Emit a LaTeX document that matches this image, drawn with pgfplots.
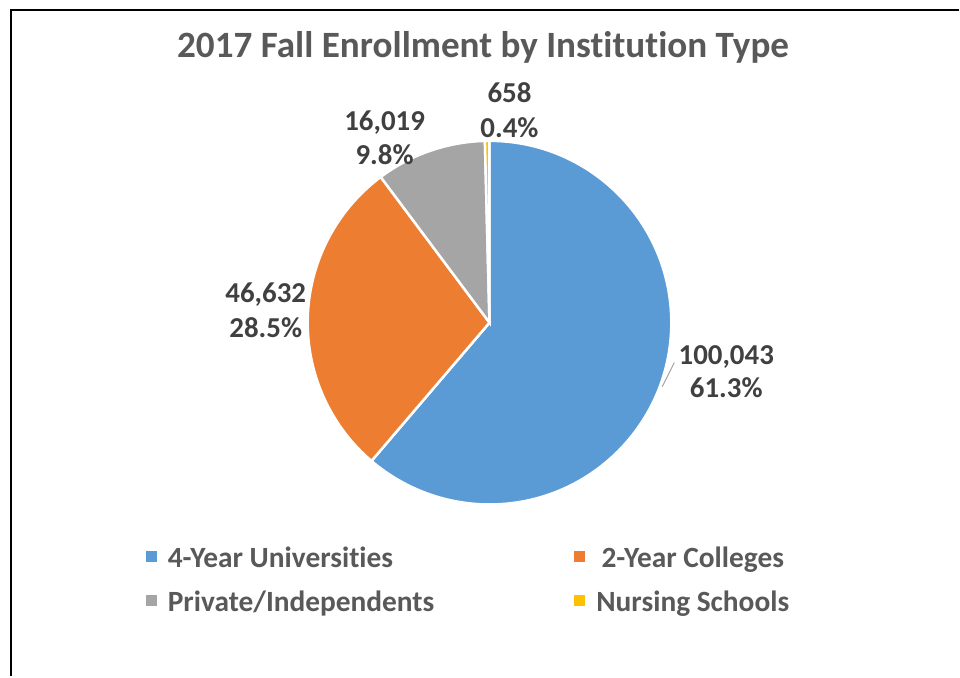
\documentclass[border=0pt]{standalone}
\usepackage{fontspec}
\setmainfont{Carlito}[Ligatures=NoCommon]
\usepackage{pgfplots}
\pgfplotsset{compat=1.18}
\definecolor{cblue}{HTML}{5B9BD5}
\definecolor{corange}{HTML}{ED7D31}
\definecolor{cgray}{HTML}{A5A5A5}
\definecolor{cyellow}{HTML}{FFC000}
\definecolor{ctitle}{HTML}{595959}
\definecolor{clabel}{HTML}{404040}

% enrollment by institution type
\def\vA{100043}% 4-Year Universities
\def\vB{46632}%  2-Year Colleges
\def\vC{16019}%  Private/Independents
\def\vD{658}%    Nursing Schools
\edef\tot{\fpeval{\vA+\vB+\vC+\vD}}
\edef\sA{\fpeval{\vA/\tot}}
\edef\sB{\fpeval{(\vA+\vB)/\tot}}
\edef\sC{\fpeval{(\vA+\vB+\vC)/\tot}}

% slice: colour, start fraction, end fraction (clockwise from 12 o'clock)
\newcommand\slice[3]{%
  \filldraw[fill=#1, draw=white, line width=2.5bp]
    (axis cs:490,354) -- ++({\fpeval{90-360*(#2)}}:182bp)
    arc[start angle={\fpeval{90-360*(#2)}}, end angle={\fpeval{90-360*(#3)}}, radius=182bp]
    -- cycle;}
\newcommand\lbl[5]{%
  \node[anchor=base, text=clabel, font=\fontsize{29}{35}\selectfont\bfseries]
    at (axis cs:#1,#2) {#3};
  \node[anchor=base, text=clabel, font=\fontsize{29}{35}\selectfont\bfseries]
    at (axis cs:#1,#4) {#5};}

\begin{document}
\begin{tikzpicture}
\begin{axis}[
    width=960bp, height=677bp,
    scale only axis,
    xmin=0, xmax=960, ymin=0, ymax=677,
    hide axis,
    clip=false,
    legend columns=2,
    legend image code/.code={\fill[#1, draw=none] (0bp,-5.5bp) rectangle (11bp,5.5bp);},
    legend style={
      draw=none, fill=none, inner sep=0pt, outer sep=0pt,
      at={(axis cs:146,135)}, anchor=north west,
      font=\fontsize{29.5}{35}\selectfont\bfseries, text=ctitle,
      nodes={inner sep=2bp},
      row sep=14bp,
      /tikz/every odd column/.append style={column sep=9bp},
    },
  ]
  % page area and frame (top and left edges only)
  \path (axis cs:0,0) rectangle (axis cs:960,677);
  \draw[black, line width=2bp] (axis cs:960,667) -- (axis cs:11,667) -- (axis cs:11,0);

  \node[anchor=base, text=ctitle, font=\fontsize{37.3}{44}\selectfont\bfseries]
    at (axis cs:483.5,619) {2017 Fall Enrollment by Institution Type};

  \slice{cblue}{0}{\sA}
  \slice{corange}{\sA}{\sB}
  \slice{cgray}{\sB}{\sC}
  \slice{cyellow}{\sC}{1}

  \addplot[color=cgray, line width=1bp, forget plot] coordinates {(663,290) (675,314)};

  \lbl{727}{312}{100,043}{279}{61.3\%}
  \lbl{266}{374}{46,632}{339}{28.5\%}
  \lbl{385}{546}{16,019}{512}{9.8\%}
  \lbl{510}{574}{658}{539}{0.4\%}

  \addlegendimage{fill=cblue}
  \addlegendentry{\strut\makebox[405bp][l]{4-Year Universities}}
  \addlegendimage{fill=corange}
  \addlegendentry{\strut 2-Year Colleges}
  \addlegendimage{fill=cgray}
  \addlegendentry{\strut\makebox[405bp][l]{Private/Independents}}
  \addlegendimage{fill=cyellow}
  \addlegendentry{\strut Nursing Schools}
\end{axis}
\end{tikzpicture}
\end{document}
